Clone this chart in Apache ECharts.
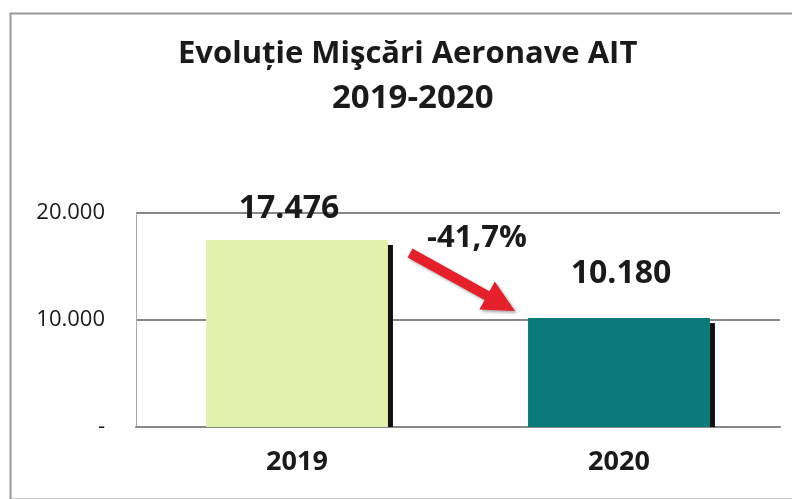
<!DOCTYPE html>
<html>
<head>
    <title></title>
    <meta charset="UTF-8">
    <script type="text/javascript" src="https://cdn.jsdelivr.net/npm/echarts@6/dist/echarts.min.js"></script>
    <style type="text/css">
        html, body { margin: 0; padding: 0; background: #fff; }
        #main { width: 792px; height: 499px; }
    </style>
</head>
<body>
<div id="main"></div>

<script type="text/javascript">
    var years = ['2019', '2020'];
    var movements = [17476, 10180];
    var barColors = ['#e3f1ae', '#0b7a7a'];
    var yTicks = [0, 10000, 20000];
    var changeLabel = '-41,7%';

    function fmtNum(v) {
        if (v === 0) return '-';
        return String(v).replace(/\B(?=(\d{3})+(?!\d))/g, '.');
    }

    var chart = echarts.init(document.getElementById('main'));

    // arrow polygon from tail to tip
    function arrowPoints(x1, y1, x2, y2, shaftW, headW, headL) {
        var dx = x2 - x1, dy = y2 - y1;
        var len = Math.sqrt(dx * dx + dy * dy);
        var ux = dx / len, uy = dy / len;
        var nx = -uy, ny = ux;
        var bx = x2 - ux * headL, by = y2 - uy * headL;
        return [
            [x1 + nx * shaftW / 2, y1 + ny * shaftW / 2],
            [bx + nx * shaftW / 2, by + ny * shaftW / 2],
            [bx + nx * headW / 2, by + ny * headW / 2],
            [x2, y2],
            [bx - nx * headW / 2, by - ny * headW / 2],
            [bx - nx * shaftW / 2, by - ny * shaftW / 2],
            [x1 - nx * shaftW / 2, y1 - ny * shaftW / 2]
        ];
    }

    var barData = movements.map(function (v, i) {
        return {
            value: v,
            itemStyle: { color: barColors[i] },
            label: { distance: i === 0 ? 15 : 28, offset: [i === 0 ? -8 : 2, 0] }
        };
    });

    var titleStyle = {
        fontFamily: 'Open Sans',
        fontWeight: 'bold',
        lineHeight: 39,
        color: '#1a1a1a'
    };

    chart.setOption({
        animation: false,
        title: [
            {
                text: 'Evoluție Mişcări Aeronave AIT',
                left: 173,
                top: 30,
                textStyle: Object.assign({ fontSize: 31 }, titleStyle)
            },
            {
                text: '2019-2020',
                left: 327,
                top: 74,
                textStyle: Object.assign({ fontSize: 33 }, titleStyle)
            }
        ],
        grid: { left: 136, right: 12, top: 213, bottom: 72 },
        xAxis: {
            type: 'category',
            data: years,
            axisLine: { lineStyle: { color: '#888', width: 2 } },
            axisTick: { show: false },
            axisLabel: {
                margin: 22,
                fontFamily: 'Open Sans',
                fontWeight: 'bold',
                fontSize: 27,
                color: '#1a1a1a'
            }
        },
        yAxis: {
            type: 'value',
            min: yTicks[0],
            max: yTicks[yTicks.length - 1],
            interval: yTicks[1] - yTicks[0],
            axisLine: { show: true, lineStyle: { color: '#aaa', width: 1 } },
            axisTick: { show: false },
            splitLine: { lineStyle: { color: '#888', width: 2 } },
            axisLabel: {
                margin: 31,
                formatter: fmtNum,
                fontFamily: 'Open Sans',
                fontSize: 22,
                color: '#1a1a1a'
            }
        },
        series: [
            {
                type: 'bar',
                data: barData,
                barWidth: '56.5%',
                z: 3,
                label: {
                    show: true,
                    position: 'top',
                    formatter: function (p) { return fmtNum(p.value); },
                    fontFamily: 'Open Sans',
                    fontWeight: 'bold',
                    fontSize: 32,
                    color: '#1a1a1a'
                }
            },
            {
                // dark edge on the right side of each bar
                type: 'custom',
                z: 4,
                data: movements.map(function (v, i) { return [i, v]; }),
                renderItem: function (params, api) {
                    var top = api.coord([api.value(0), api.value(1)]);
                    var base = api.coord([api.value(0), 0]);
                    var bw = api.size([1, 0])[0] * 0.565;
                    return {
                        type: 'rect',
                        shape: {
                            x: top[0] + bw / 2,
                            y: top[1] + 5,
                            width: 5,
                            height: base[1] - top[1] - 5
                        },
                        style: { fill: '#111' }
                    };
                }
            }
        ],
        graphic: [
            {
                type: 'rect',
                left: 8, top: 11,
                shape: { width: 800, height: 486 },
                style: { fill: 'none', stroke: '#999', lineWidth: 2 },
                silent: true
            },
            {
                type: 'polygon',
                shape: { points: arrowPoints(410, 253, 515, 311, 10, 32, 32) },
                style: {
                    fill: '#e5202a',
                    shadowColor: 'rgba(0,0,0,0.35)',
                    shadowBlur: 3,
                    shadowOffsetX: 2,
                    shadowOffsetY: 2
                },
                z: 10
            },
            {
                type: 'text',
                x: 477, y: 238,
                style: {
                    text: changeLabel,
                    fontFamily: 'Open Sans',
                    fontWeight: 'bold',
                    fontSize: 31,
                    fill: '#1a1a1a',
                    textAlign: 'center',
                    textVerticalAlign: 'middle'
                },
                z: 10
            }
        ]
    });
</script>

</body>
</html>
